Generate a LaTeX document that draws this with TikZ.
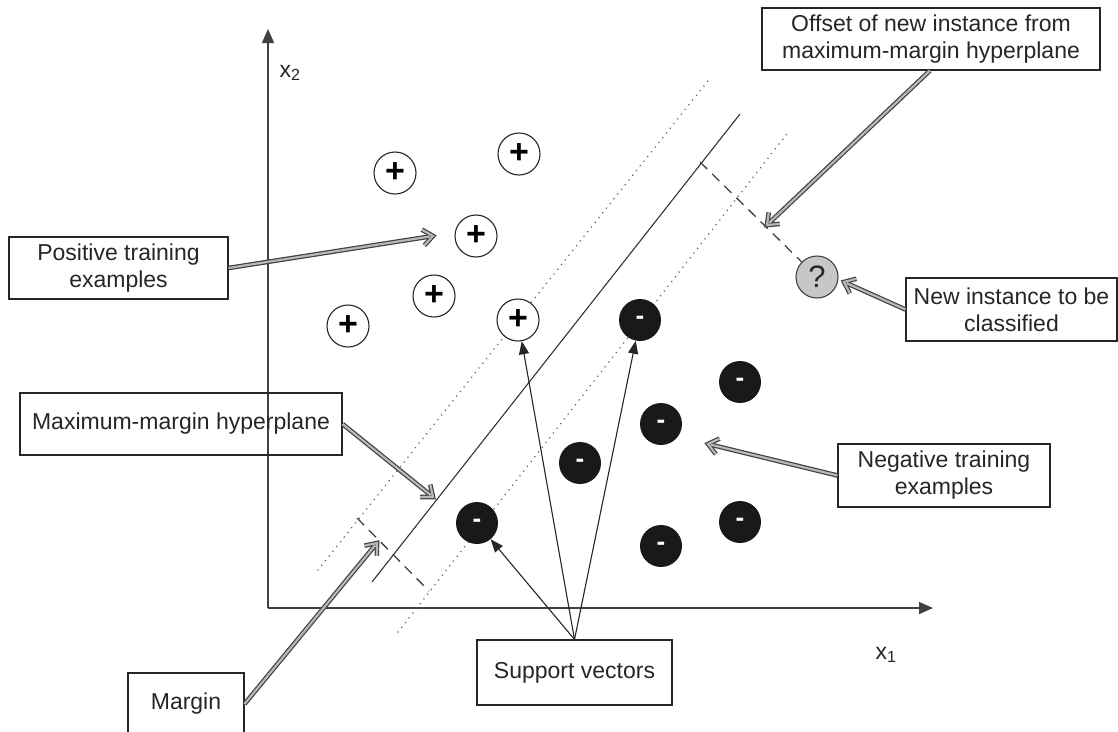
\documentclass[tikz,border=0pt]{standalone}
\usepackage{fontspec}
\setmainfont{Liberation Sans}
\usetikzlibrary{arrows.meta,calc}
\newcommand\hollowarr[2]{%
  \draw[hollowdark] (#1) -- ($(#2)!3pt!(#1)$);
  \draw[hollowdark] ($(#2)!10pt!(#1)!8pt!90:(#2)$) -- (#2) -- ($(#2)!10pt!(#1)!8pt!-90:(#2)$);
  \draw[hollowlight] (#1) -- ($(#2)!3pt!(#1)$);
  \draw[hollowlight] ($(#2)!10pt!(#1)!8pt!90:(#2)$) -- (#2) -- ($(#2)!10pt!(#1)!8pt!-90:(#2)$);
}
\begin{document}
\begin{tikzpicture}[x=1pt,y=-1pt,
  txt/.style={text=black!85, font=\fontsize{23}{27}\selectfont},
  box/.style={txt, draw=black!85, line width=1.1pt, rectangle, align=center, inner sep=0pt},
  plusdot/.style={circle, draw=black!85, line width=1.1pt, fill=white, minimum size=42pt, inner sep=0pt, font=\fontsize{34}{34}\selectfont},
  minusdot/.style={circle, fill=black!90, minimum size=42pt, inner sep=0pt, text=white, font=\fontsize{26}{26}\selectfont\bfseries},
  qdot/.style={circle, draw=black!75, line width=1.1pt, fill=black!22, minimum size=42pt, inner sep=0pt, text=black!85, font=\fontsize{31}{31}\selectfont},
  hollowdark/.style={line width=4.6pt, draw=black!75, line join=miter, line cap=butt},
  hollowlight/.style={line width=2.2pt, draw=black!28, line join=miter, line cap=butt},
  axisline/.style={line width=1.4pt, draw=black!75, -{Triangle[length=14pt,width=12pt]}},
  svarrow/.style={line width=1.1pt, draw=black!85, -{Triangle[length=13pt,width=10pt]}},
  dotline/.style={line width=1.7pt, draw=black!65, line cap=round, dash pattern=on 0.01pt off 6pt},
  dashline/.style={line width=1.3pt, draw=black!75, dash pattern=on 10pt off 7pt}
]
\clip (0,0) rectangle (1118,731);
\fill[white] (0,0) rectangle (1118,731);

% axes
\coordinate (O) at (268,608);
\coordinate (ytop) at (268,29);
\coordinate (xend) at (933,608);
\draw[axisline] (O) -- (ytop);
\draw[axisline] (O) -- (xend);
\node[txt] (x2) at (290,73) {x\textsubscript{2}};
\node[txt] (x1) at (886,655) {x\textsubscript{1}};

% hyperplanes
\coordinate (h1) at (372,582); \coordinate (h2) at (740,114);
\coordinate (u1) at (318,570); \coordinate (u2) at (711,77);
\coordinate (l1) at (398,632); \coordinate (l2) at (790,130);
\draw[line width=1.1pt, black!80] (h1) -- (h2);
\draw[dotline] (u1) -- (u2);
\draw[dotline] (l1) -- (l2);
\coordinate (m1) at (357,518); \coordinate (m2) at (429,591);
\draw[dashline] (m1) -- (m2);

% points
\node[plusdot] (p1) at (395,173) {\textbf{+}};
\node[plusdot] (p2) at (519,154) {\textbf{+}};
\node[plusdot] (p3) at (476,236) {\textbf{+}};
\node[plusdot] (p4) at (434,296) {\textbf{+}};
\node[plusdot] (p5) at (348,326) {\textbf{+}};
\node[plusdot] (p6) at (518,320) {\textbf{+}};
\node[minusdot] (n1) at (640,320) {-};
\node[minusdot] (n2) at (740,382) {-};
\node[minusdot] (n3) at (661,424) {-};
\node[minusdot] (n4) at (580,463) {-};
\node[minusdot] (n5) at (477,523) {-};
\node[minusdot] (n6) at (740,522) {-};
\node[minusdot] (n7) at (661,546) {-};
\node[qdot] (q) at (817,277) {?};

\coordinate (o1) at (700,162);
\draw[dashline] (o1) -- (q);

% boxes
\node[box, minimum width=338pt, minimum height=62pt] (offset) at (931,39) {Offset of new instance from\\maximum-margin hyperplane};
\node[box, minimum width=219pt, minimum height=62pt] (positive) at (118.5,268) {Positive training\\examples};
\node[box, minimum width=211pt, minimum height=63pt] (newinst) at (1011.5,309.5) {New instance to be\\classified};
\node[box, minimum width=322pt, minimum height=62pt] (maxm) at (181,424) {Maximum-margin hyperplane};
\node[box, minimum width=212pt, minimum height=63pt] (negative) at (944,475.5) {Negative training\\examples};
\node[box, minimum width=195pt, minimum height=65pt] (support) at (574.5,672.5) {Support vectors};
\node[box, minimum width=116pt, minimum height=62pt] (margin) at (186,704) {Margin};

% hollow arrows
\coordinate (tpos) at (433,236);
\coordinate (tmax) at (433,497);
\coordinate (tmar) at (377,543);
\coordinate (toff) at (767,225);
\coordinate (tnew) at (844,282);
\coordinate (tneg) at (708,444);
\coordinate (spos) at (positive.east);
\coordinate (smax) at (maxm.east);
\coordinate (smar) at (margin.east);
\coordinate (soff) at ([xshift=-1pt]offset.south);
\coordinate (snew) at (newinst.west);
\coordinate (sneg) at (negative.west);
\hollowarr{spos}{tpos}
\hollowarr{smax}{tmax}
\hollowarr{smar}{tmar}
\hollowarr{soff}{toff}
\hollowarr{snew}{tnew}
\hollowarr{sneg}{tneg}

% support vector arrows
\draw[svarrow] (support.north) -- (p6);
\draw[svarrow] (support.north) -- (n1);
\draw[svarrow] (support.north) -- (n5);
\end{tikzpicture}
\end{document}
